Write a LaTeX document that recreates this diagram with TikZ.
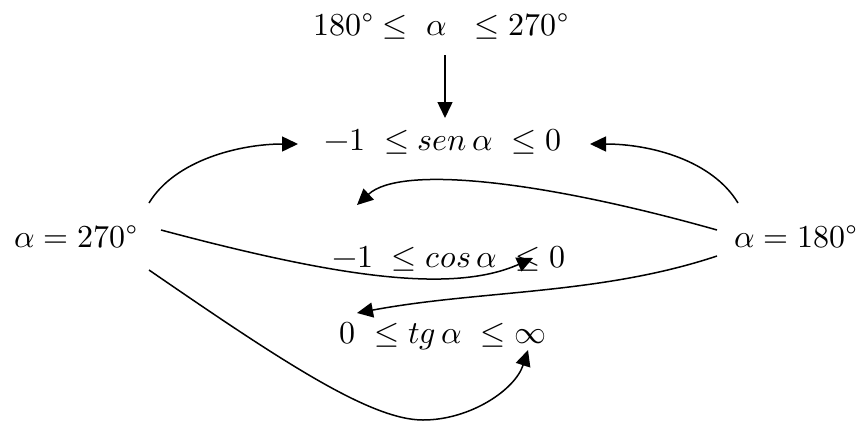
\documentclass[tikz,border=0pt]{standalone}
\usepackage{unicode-math}
\setmathfont{Latin Modern Math}
\usetikzlibrary{arrows.meta}
\begin{document}
\begin{tikzpicture}[x=1pt,y=-1pt,
  lbl/.style={inner sep=0pt,anchor=base,font=\fontsize{32}{38}\selectfont},
  conn/.style={line width=1.5pt,-{Triangle[length=16pt,width=15pt]}}]
\useasboundingbox (0,0) rectangle (864,421);
\node[lbl] (top) at (441,35) {$180$\textdegree$\ \le\ \alpha\ \ \le 270$\textdegree};
\node[lbl] (sen) at (443,150) {$-1\ \le sen\,\alpha\ \le 0$};
\node[lbl] (cos) at (449,267) {$-1\ \le cos\,\alpha\ \le 0$};
\node[lbl] (tg) at (443,343) {$0\ \le tg\,\alpha\ \le \infty$};
\node[lbl] (a270) at (75.5,247) {$\alpha = 270$\textdegree};
\node[lbl] (a180) at (795.5,247) {$\alpha = 180$\textdegree};
% endpoints
\coordinate (t0) at (445,55);
\coordinate (t1) at (445,118);
\coordinate (l1) at (149,203);
\coordinate (l2) at (161,230);
\coordinate (l3) at (149,270);
\coordinate (r1) at (738,203);
\coordinate (r2) at (717,230);
\coordinate (r3) at (717,256);
\coordinate (senL) at (298,144);
\coordinate (senR) at (590,144);
\coordinate (mid) at (357,205);
\coordinate (cosT) at (533,258);
\coordinate (tgL) at (357,313);
\coordinate (tgB) at (528,350);
\draw[conn] (t0) -- (t1);
\draw[conn] (l1) .. controls (175,160) and (240,144) .. (senL);
\draw[conn] (r1) .. controls (712,160) and (650,144) .. (senR);
\draw[conn] (r2) .. controls (540,180) and (400,165) .. (mid);
\draw[conn] (l2) .. controls (330,275) and (450,295) .. (cosT);
\draw[conn] (r3) .. controls (600,295) and (480,290) .. (tgL);
\draw[conn] (l3) .. controls (280,360) and (370,420) .. (423,420) .. controls (470,420) and (515,390) .. (tgB);
\end{tikzpicture}
\end{document}
